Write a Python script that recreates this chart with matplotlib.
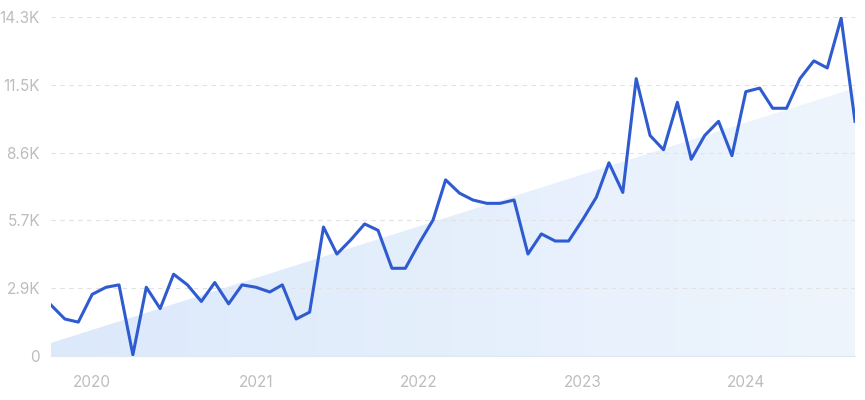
import matplotlib.pyplot as plt
import matplotlib.dates as mdates
import numpy as np
import pandas as pd
from matplotlib.patches import Polygon

# monthly values (thousands), Oct 2019 .. Sep 2024
months = pd.date_range("2019-10-01", periods=60, freq="MS")
values = [
    2.15, 1.56, 1.43, 2.6, 2.9, 3.0, 0.05, 2.9, 2.0, 3.45,
    3.0, 2.3, 3.1, 2.2, 3.0, 2.9, 2.7, 3.0, 1.56, 1.85,
    5.44, 4.3, 4.9, 5.57, 5.3, 3.7, 3.7, 4.76, 5.74, 7.43,
    6.87, 6.58, 6.44, 6.44, 6.58, 4.3, 5.15, 4.85, 4.85, 5.74,
    6.7, 8.15, 6.9, 11.7, 9.3, 8.7, 10.7, 8.3, 9.3, 9.9,
    8.45, 11.15, 11.3, 10.45, 10.45, 11.7, 12.45, 12.15, 14.25, 9.9,
]
trend_start, trend_end = 0.55, 11.3
yticks = [0, 2.86, 5.72, 8.58, 11.44, 14.3]
ytick_labels = ["0", "2.9K", "5.7K", "8.6K", "11.5K", "14.3K"]
year_ticks = ["2020", "2021", "2022", "2023", "2024"]

plt.rcParams["font.family"] = ["Inter", "DejaVu Sans"]

fig = plt.figure(figsize=(8.65, 4.0), dpi=100)
ax = fig.add_axes([51 / 865, 44 / 400, 804 / 865, 339 / 400])

x0 = mdates.date2num(months[0])
x1 = mdates.date2num(months[-1])

# trend area with soft gradient
poly = Polygon([(x0, 0), (x0, trend_start), (x1, trend_end), (x1, 0)],
               closed=True, facecolor="none", edgecolor="none")
ax.add_patch(poly)
grad = np.linspace(0, 1, 256).reshape(1, -1)
cmap = plt.matplotlib.colors.LinearSegmentedColormap.from_list(
    "g", ["#dce9fb", "#eef5fd"])
im = ax.imshow(grad, extent=[x0, x1, 0, trend_end], aspect="auto",
               cmap=cmap, origin="lower", zorder=1)
im.set_clip_path(poly)

ax.plot(months, values, color="#2f5bd0", linewidth=2.2, zorder=3)

ax.set_xlim(x0, x1)
ax.set_ylim(0, 14.3)

ax.set_yticks(yticks)
ax.set_yticklabels(ytick_labels)
ax.set_xticks([mdates.date2num(pd.Timestamp(y + "-01-01")) for y in year_ticks])
ax.set_xticklabels(year_ticks)

ax.grid(axis="y", color="#e2e2e2", linestyle=(0, (4, 4)), linewidth=0.8, zorder=0)
ax.grid(axis="x", visible=False)

for s in ["top", "right", "left"]:
    ax.spines[s].set_visible(False)
ax.spines["bottom"].set_color("#dfe8f5")
ax.spines["bottom"].set_linewidth(0.8)

ax.tick_params(axis="both", length=0, colors="#bdbdbd", labelsize=11)
ax.tick_params(axis="y", pad=8)
ax.tick_params(axis="x", pad=14)

fig.savefig("out.png", dpi=100)
